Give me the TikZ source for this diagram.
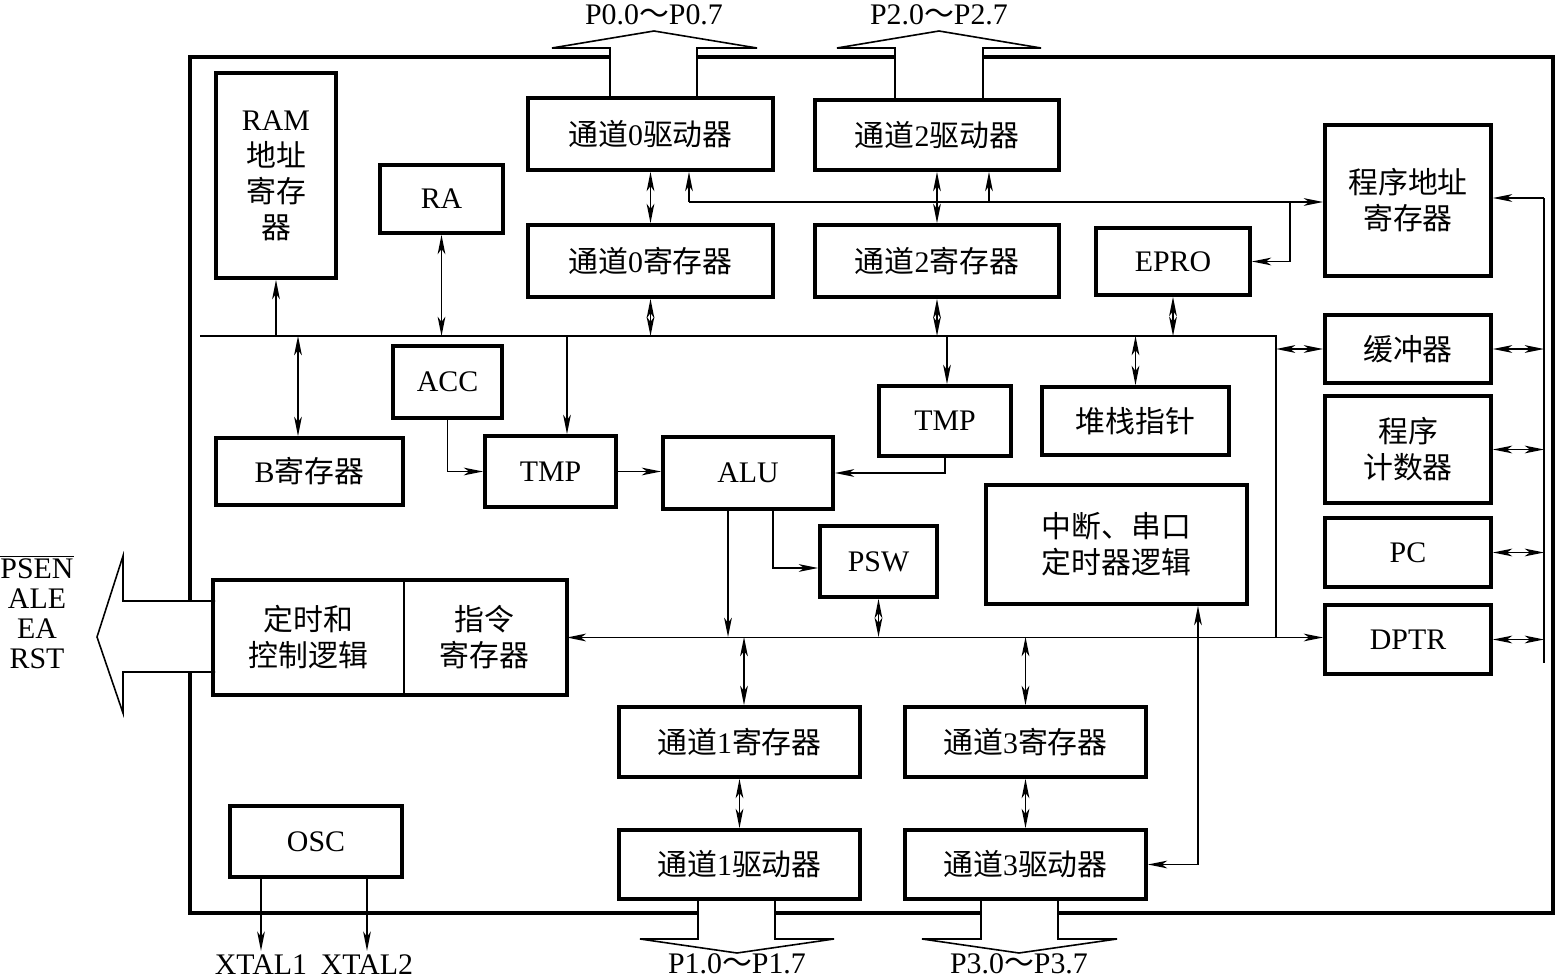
\documentclass[tikz,border=0pt]{standalone}
\usepackage{fontspec}
\setmainfont{Liberation Serif}
\newfontfamily\cjk{Noto Sans CJK SC}
\newcommand{\zh}[1]{{\cjk #1}}
\usetikzlibrary{arrows.meta}
\tikzstyle{txt}=[font=\fontsize{17}{20.5}\selectfont, inner sep=2pt]
\tikzstyle{blk}=[txt, draw, line width=2.2pt, align=center]
\tikzstyle{port}=[line width=0.9pt, fill=white]
\tikzstyle{frame}=[line width=2.6pt]

\begin{document}
\begin{tikzpicture}[x=0.02cm, y=-0.02cm, line width=0.9pt,
    >={Stealth[length=11pt,width=4.4pt,inset=3pt]}]
				\useasboundingbox (0,0) rectangle (1556,980);
				%The chip outline
				\draw[frame] (190,57) rectangle (1553,913);
				
				%The ports
				\filldraw[port] (610,98) -- (610,48) -- (552,48) -- (654,31) -- (757,48) -- (697,48) -- (697,98);
				\filldraw[port] (895,100) -- (895,48) -- (837,48) -- (939,31) -- (1041,48) -- (983,48) -- (983,100);
				\filldraw[port] (698,899) -- (698,939) -- (640,939) -- (737,953) -- (834,939) -- (775,939) -- (775,899);
				\filldraw[port] (981,899) -- (981,939) -- (922,939) -- (1019,953) -- (1117,939) -- (1058,939) -- (1058,899);
				\filldraw[port] (215,601) -- (123,601) -- (123,556) -- (97,637) -- (123,713) -- (123,672) -- (215,672);
				
				\node[txt] (lp0) at (654,15) {P0.0\zh{～}P0.7};
				\node[txt] (lp2) at (939,15) {P2.0\zh{～}P2.7};
				\node[txt] (lp1) at (737,964) {P1.0\zh{～}P1.7};
				\node[txt] (lp3) at (1019,964) {P3.0\zh{～}P3.7};
				\node[txt, align=center, font=\fontsize{17}{17}\selectfont] (ctlsig) at (37,612) {$\overline{\hbox{PSEN}}$\\ALE\\EA\\RST};
				
				%The blocks
				\node[blk, minimum width=2.4cm, minimum height=4.1cm] (ram) at (276,175.5) {RAM\\\zh{地址}\\\zh{寄存}\\\zh{器}};
				\node[blk, minimum width=2.46cm, minimum height=1.36cm] (ra) at (441.5,199) {RA};
				\node[blk, minimum width=4.9cm, minimum height=1.44cm] (drv0) at (650.5,134) {\zh{通道}0\zh{驱动器}};
				\node[blk, minimum width=4.88cm, minimum height=1.4cm] (drv2) at (937,135) {\zh{通道}2\zh{驱动器}};
				\node[blk, minimum width=4.9cm, minimum height=1.44cm] (reg0) at (650.5,261) {\zh{通道}0\zh{寄存器}};
				\node[blk, minimum width=4.88cm, minimum height=1.44cm] (reg2) at (937,261) {\zh{通道}2\zh{寄存器}};
				\node[blk, minimum width=3.08cm, minimum height=1.34cm] (epro) at (1173,261.5) {EPRO};
				\node[blk, minimum width=3.32cm, minimum height=3.02cm] (pa) at (1408,200.5) {\zh{程序地址}\\\zh{寄存器}};
				\node[blk, minimum width=3.32cm, minimum height=1.36cm] (buf) at (1408,349) {\zh{缓冲器}};
				\node[blk, minimum width=3.32cm, minimum height=2.14cm] (pcnt) at (1408,449.5) {\zh{程序}\\\zh{计数器}};
				\node[blk, minimum width=3.32cm, minimum height=1.38cm] (pc) at (1408,552.5) {PC};
				\node[blk, minimum width=3.32cm, minimum height=1.38cm] (dptr) at (1408,639.5) {DPTR};
				\node[blk, minimum width=2.18cm, minimum height=1.44cm] (acc) at (447.5,382) {ACC};
				\node[blk, minimum width=3.74cm, minimum height=1.34cm] (breg) at (309.5,471.5) {B\zh{寄存器}};
				\node[blk, minimum width=2.62cm, minimum height=1.42cm] (tmpa) at (550.5,471.5) {TMP};
				\node[blk, minimum width=3.4cm, minimum height=1.44cm] (alu) at (748,473) {ALU};
				\node[blk, minimum width=2.64cm, minimum height=1.4cm] (tmpb) at (945,421) {TMP};
				\node[blk, minimum width=3.74cm, minimum height=1.36cm] (sp) at (1135.5,421) {\zh{堆栈指针}};
				\node[blk, minimum width=2.34cm, minimum height=1.42cm] (psw) at (878.5,561.5) {PSW};
				\node[blk, minimum width=5.22cm, minimum height=2.38cm] (intr) at (1116.5,544.5) {\zh{中断、串口}\\\zh{定时器逻辑}};
				\node[txt, align=center, minimum width=3.78cm, minimum height=2.26cm] (ctl) at (308.5,637.5) {\zh{定时和}\\\zh{控制逻辑}};
				\node[txt, align=center, minimum width=3.26cm, minimum height=2.26cm] (ir) at (484.5,637.5) {\zh{指令}\\\zh{寄存器}};
				\draw[line width=2.2pt] (ctl.north west) rectangle (ir.south east);
				\draw (ctl.north east) -- (ctl.south east);
				\node[blk, minimum width=4.82cm, minimum height=1.4cm] (reg1) at (739.5,742) {\zh{通道}1\zh{寄存器}};
				\node[blk, minimum width=4.82cm, minimum height=1.4cm] (reg3) at (1025.5,742) {\zh{通道}3\zh{寄存器}};
				\node[blk, minimum width=4.82cm, minimum height=1.38cm] (drv1) at (739.5,864.5) {\zh{通道}1\zh{驱动器}};
				\node[blk, minimum width=4.82cm, minimum height=1.38cm] (drv3) at (1025.5,864.5) {\zh{通道}3\zh{驱动器}};
				\node[blk, minimum width=3.44cm, minimum height=1.42cm] (osc) at (316,841.5) {OSC};
				\node[txt] (x1) at (261,965) {XTAL1};
				\node[txt] (x2) at (367,965) {XTAL2};
				
				%The buses
				\coordinate (busL) at (200,336);
				\coordinate (busR) at (1276,336);
				\coordinate (bb) at (298,336);
				\coordinate (t1) at (567,336);
				\coordinate (t2) at (947,336);
				\coordinate (aluo) at (728,637);
				\coordinate (c1) at (744,637);
				\coordinate (ad0) at (689,202);
				\coordinate (ad2) at (989,202);
				\coordinate (ade) at (1290,202);
				\coordinate (rtop) at (1544,198);
				\coordinate (rbot) at (1544,663);
				
				\draw (busL) -- (busR) -- (busR |- ir.east);
				\draw[<->] (ir.east) -- (ir.east -| dptr.west);
				\draw (rtop) -- (rbot);
				\draw[->] (ad0) -- (ad0 -| pa.west);
				
				%Upper connectors
				\draw[->] (ram.south |- busL) -- (ram.south);
				\draw[<->] (ra.south) -- (ra.south |- busL);
				\draw[<->] (bb) -- (bb |- breg.north);
				\draw[<->] (drv0.south) -- (reg0.north);
				\draw[<->] (drv2.south) -- (reg2.north);
				\draw[<->] (reg0.south) -- (reg0.south |- busL);
				\draw[<->] (reg2.south) -- (reg2.south |- busL);
				\draw[<->] (epro.south) -- (epro.south |- busL);
				\draw[<->] (sp.north |- busL) -- (sp.north);
				\draw[->] (ad0) -- (ad0 |- drv0.south);
				\draw[->] (ad2) -- (ad2 |- drv2.south);
				\draw[->] (ade) |- (epro.east);
				\draw[->] (rtop) -- (rtop -| pa.east);
				\draw[<->] (busR |- buf.west) -- (buf.west);
				\foreach \n in {buf,pcnt,pc,dptr}
					\draw[<->] (\n.east) -- (\n.east -| rtop);
				
				%ALU path
				\draw[->] (acc.south) |- (tmpa.west);
				\draw[->] (t1) -- (t1 |- tmpa.north);
				\draw[->] (t2) -- (t2 |- tmpb.north);
				\draw[->] (tmpa.east) -- (tmpa.east -| alu.west);
				\draw[->] (tmpb.south) |- (alu.east);
				\draw[->] ([xshift=0.5cm]alu.south) |- ([yshift=-0.13cm]psw.west);
				\draw[->] (aluo |- alu.south) -- (aluo);
				\draw[<->] (psw.south) -- (psw.south |- aluo);
				
				%Lower connectors
				\draw[<->] (c1) -- (c1 |- reg1.north);
				\draw[<->] (reg1.south) -- (drv1.north);
				\draw[<->] (reg3.north |- aluo) -- (reg3.north);
				\draw[<->] (reg3.south) -- (drv3.north);
				\draw[<->] (drv3.east) -| ([xshift=1.63cm]intr.south);
				\draw[->] (osc.south -| x1) -- (x1.north);
				\draw[->] (osc.south -| x2) -- (x2.north);
\end{tikzpicture}
\end{document}
